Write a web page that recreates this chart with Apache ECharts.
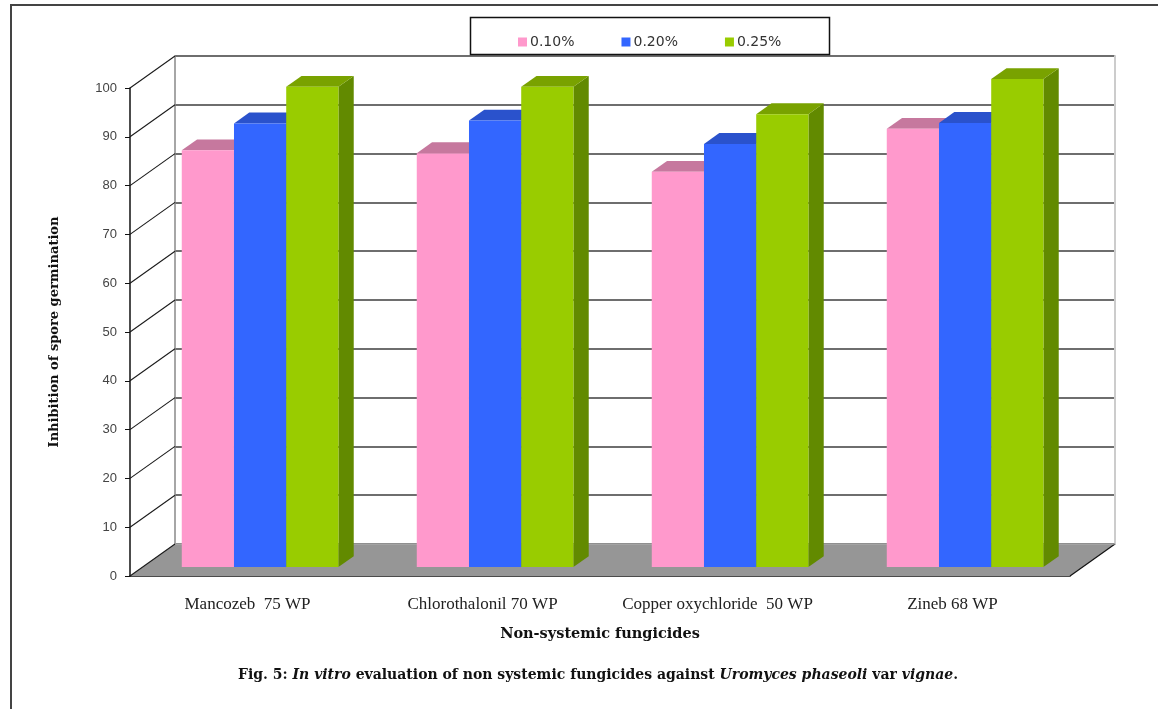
<!DOCTYPE html>
<html>
<head>
<meta charset="utf-8">
<script src="https://cdn.jsdelivr.net/npm/echarts@6/dist/echarts.min.js"></script>
<style>
  html, body { margin: 0; padding: 0; background: #ffffff; }
  #chart { width: 1158px; height: 709px; }
</style>
</head>
<body>
<div id="chart"></div>
<script>
// ---- data ----
const categories = ['Mancozeb  75 WP', 'Chlorothalonil 70 WP', 'Copper oxychloride  50 WP', 'Zineb 68 WP'];
const seriesNames = ['0.10%', '0.20%', '0.25%'];
const conc010 = [85.4, 84.8, 81.0, 89.8];
const conc020 = [90.9, 91.5, 86.7, 91.0];
const conc025 = [98.4, 98.4, 92.8, 100.0];
const yTicks = [0, 10, 20, 30, 40, 50, 60, 70, 80, 90, 100];

// ---- layout / style ----
// oblique projection: offset from the front plane to the back wall
const DEPTH = [45, -32];
// front and back faces of the bars, as fractions of the full depth
const BAR_DEPTH = [0.28, 0.62];
const GAP_RATIO = 1.5;
const FRONT = { left: 130, top: 88, width: 940, height: 488 };
const BACK = { left: FRONT.left + DEPTH[0], top: FRONT.top + DEPTH[1], width: FRONT.width, height: FRONT.height };

const barColors = [
  { front: '#FF99CC', top: '#C6789E', side: '#B06A8C' },
  { front: '#3366FF', top: '#2A52CC', side: '#2144B0' },
  { front: '#99CC00', top: '#79A200', side: '#628A00' }
];

function barRenderer(idx) {
  const c = barColors[idx];
  return function (params, api) {
    const ci = api.value(0);
    const v = api.value(1);
    const base = api.coord([ci, 0]);
    const top = api.coord([ci, v]);
    const band = api.size([1, 0])[0];
    const bw = band / (seriesNames.length + GAP_RATIO);
    const x0 = base[0] - bw * seriesNames.length / 2 + idx * bw + DEPTH[0] * BAR_DEPTH[0];
    const x1 = x0 + bw;
    const yB = base[1] + DEPTH[1] * BAR_DEPTH[0];
    const yT = top[1] + DEPTH[1] * BAR_DEPTH[0];
    const dx = DEPTH[0] * (BAR_DEPTH[1] - BAR_DEPTH[0]);
    const dy = DEPTH[1] * (BAR_DEPTH[1] - BAR_DEPTH[0]);
    return {
      type: 'group',
      children: [
        { type: 'polygon', shape: { points: [[x1, yB], [x1 + dx, yB + dy], [x1 + dx, yT + dy], [x1, yT]] }, style: { fill: c.side } },
        { type: 'polygon', shape: { points: [[x0, yT], [x1, yT], [x1 + dx, yT + dy], [x0 + dx, yT + dy]] }, style: { fill: c.top } },
        { type: 'rect', shape: { x: x0, y: yT, width: bw, height: yB - yT }, style: { fill: c.front } }
      ]
    };
  };
}

// gray floor under the bars
function floorRenderer(params, api) {
  const band = api.size([1, 0])[0];
  const l = api.coord([0, 0]);
  const r = api.coord([categories.length - 1, 0]);
  const xl = l[0] - band / 2, xr = r[0] + band / 2, y = l[1];
  return {
    type: 'group',
    children: [
      { type: 'polygon', shape: { points: [[xl, y], [xr, y], [xr + DEPTH[0], y + DEPTH[1]], [xl + DEPTH[0], y + DEPTH[1]]] }, style: { fill: '#969696' } },
      { type: 'line', shape: { x1: xr, y1: y, x2: xr + DEPTH[0], y2: y + DEPTH[1] }, style: { stroke: '#111', lineWidth: 1.2 } },
      { type: 'line', shape: { x1: xl + DEPTH[0], y1: y + DEPTH[1], x2: xr + DEPTH[0], y2: y + DEPTH[1] }, style: { stroke: '#b0b0b0', lineWidth: 1 } }
    ]
  };
}

// side-wall lines joining each value tick to the back wall
function sideRenderer(params, api) {
  const band = api.size([1, 0])[0];
  const p = api.coord([0, api.value(1)]);
  const x = p[0] - band / 2;
  return { type: 'line', shape: { x1: x, y1: p[1], x2: x + DEPTH[0], y2: p[1] + DEPTH[1] }, style: { stroke: '#1a1a1a', lineWidth: 1.1 } };
}

const seriesData = [conc010, conc020, conc025];

const option = {
  animation: false,
  backgroundColor: '#ffffff',
  title: {
    text: '{b|Fig. 5: }{bi|In vitro}{b| evaluation of non systemic fungicides against }{bi|Uromyces phaseoli}{b| var }{bi|vignae}{b|.}',
    left: 593, textAlign: 'center', top: 663,
    textStyle: {
      rich: {
        b: { fontFamily: 'DejaVu Serif', fontSize: 14, fontWeight: 'bold', color: '#111' },
        bi: { fontFamily: 'DejaVu Serif', fontSize: 14, fontWeight: 'bold', fontStyle: 'italic', color: '#111' }
      }
    }
  },
  legend: {
    data: seriesNames,
    left: 513, top: 30, z: 10,
    icon: 'rect', itemWidth: 9, itemHeight: 9, itemGap: 47,
    textStyle: { fontFamily: 'DejaVu Sans', fontSize: 14, color: '#333', padding: [0, 0, 0, -2] }
  },
  graphic: [
    { type: 'polyline', z: 0, shape: { points: [[11, 709], [11, 5], [1158, 5]] }, style: { stroke: '#444', lineWidth: 2, fill: null } },
    { type: 'rect', z: 5, shape: { x: 470.5, y: 17.5, width: 359, height: 37 }, style: { fill: '#ffffff', stroke: '#111', lineWidth: 1.5 } }
  ],
  grid: [
    { left: FRONT.left, top: FRONT.top, width: FRONT.width, height: FRONT.height },
    { left: BACK.left, top: BACK.top, width: BACK.width, height: BACK.height }
  ],
  xAxis: [
    {
      type: 'category', gridIndex: 0, data: categories,
      axisLine: { lineStyle: { color: '#111', width: 1.5 } },
      axisTick: { interval: 0, length: 6, lineStyle: { color: '#111' } },
      axisLabel: { interval: 0, margin: 20, fontFamily: 'Liberation Serif', fontSize: 17, color: '#222' },
      name: 'Non-systemic fungicides', nameLocation: 'middle', nameGap: 51,
      nameTextStyle: { fontFamily: 'DejaVu Serif', fontSize: 14.5, fontWeight: 'bold', color: '#111' }
    },
    { type: 'category', gridIndex: 1, data: categories, show: false }
  ],
  yAxis: [
    {
      type: 'value', gridIndex: 0, min: 0, max: 100, interval: 10,
      axisLine: { show: true, lineStyle: { color: '#111', width: 1.5 } },
      axisTick: { show: true, length: 5, lineStyle: { color: '#111' } },
      splitLine: { show: false },
      axisLabel: { margin: 13, fontFamily: 'Liberation Sans', fontSize: 13, color: '#444' },
      name: 'Inhibition of spore germination', nameLocation: 'middle', nameGap: 69, nameRotate: 90,
      nameTextStyle: { fontFamily: 'DejaVu Serif', fontSize: 13, fontWeight: 'bold', color: '#111' }
    },
    {
      type: 'value', gridIndex: 1, min: 0, max: 100, interval: 10,
      axisLine: { show: true, lineStyle: { color: '#888', width: 1.5 } },
      axisTick: { show: false }, axisLabel: { show: false },
      splitLine: { show: true, lineStyle: { color: '#6e6e6e', width: 1.8 } }
    },
    {
      type: 'value', gridIndex: 1, min: 0, max: 100, interval: 10, position: 'right',
      axisLine: { show: true, lineStyle: { color: '#cccccc', width: 2 } },
      axisTick: { show: false }, axisLabel: { show: false }, splitLine: { show: false }
    }
  ],
  series: [
    { type: 'custom', name: 'floor', xAxisIndex: 0, yAxisIndex: 0, z: 1, silent: true, renderItem: floorRenderer, data: [[0, 0]] },
    { type: 'custom', name: 'side', xAxisIndex: 0, yAxisIndex: 0, z: 1, silent: true, renderItem: sideRenderer, data: yTicks.map(t => [0, t]) }
  ].concat(seriesNames.map((name, i) => ({
    type: 'custom', name: name, xAxisIndex: 0, yAxisIndex: 0, z: 3,
    itemStyle: { color: barColors[i].front },
    renderItem: barRenderer(i),
    encode: { x: 0, y: 1 },
    data: seriesData[i].map((v, ci) => [ci, v])
  })))
};

const chart = echarts.init(document.getElementById('chart'), null, { renderer: 'canvas' });
chart.setOption(option);
</script>
</body>
</html>
